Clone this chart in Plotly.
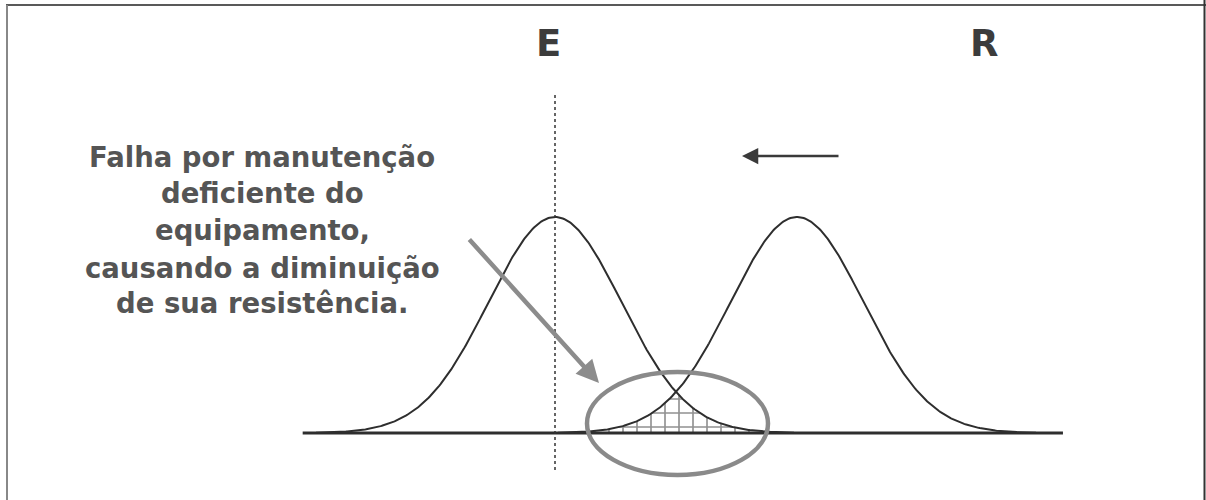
import numpy as np
import plotly.graph_objects as go

# ---- data (conceptual units: x in sigma units, y = relative density, peak = 1)
curve_names = ["E", "R"]
curve_means = [0.0, 3.645]
curve_sigma = [1.0, 1.0]
curve_peak = [1.0, 1.0]
baseline_x = [-3.8, 7.65]
overlap_x = [0.55, 3.1]
annotation_lines = ["Falha por manutenção", "deficiente do", "equipamento,",
                    "causando a diminuição", "de sua resistência."]

# ---- layout mapping (pixel -> data) for decorations only
W, H = 1206, 500
X0PX, XSCALE = 555.0, 66.4
Y0PX, YSCALE = 433.0, 216.0
def dx(px): return (px - X0PX) / XSCALE
def dy(py): return (Y0PX - py) / YSCALE

def gauss(x, m, s, a):
    return a * np.exp(-0.5 * ((x - m) / s) ** 2)

fig = go.Figure()

# hatched overlap region
xo = np.linspace(overlap_x[0], overlap_x[1], 200)
yo = np.minimum(gauss(xo, curve_means[0], curve_sigma[0], curve_peak[0]),
                gauss(xo, curve_means[1], curve_sigma[1], curve_peak[1]))
fig.add_trace(go.Scatter(
    x=np.concatenate([xo, xo[::-1]]), y=np.concatenate([yo, np.zeros_like(yo)]),
    fill="toself", mode="none", fillcolor="rgba(255,255,255,0)",
    fillpattern=dict(shape="+", fgcolor="#222222", bgcolor="white", size=14, solidity=0.22),
    hoverinfo="skip", showlegend=False))

# baseline
fig.add_trace(go.Scatter(x=baseline_x, y=[0, 0], mode="lines",
                         line=dict(color="#2e2e2e", width=3), showlegend=False, hoverinfo="skip"))

# bell curves
for name, m, s, a in zip(curve_names, curve_means, curve_sigma, curve_peak):
    xs = np.linspace(m - 3.6 * s, m + 3.6 * s, 400)
    fig.add_trace(go.Scatter(x=xs, y=gauss(xs, m, s, a), mode="lines", name=name,
                             line=dict(color="#2e2e2e", width=2), showlegend=False, hoverinfo="skip"))

shapes = []
# dotted vertical line at E mean
shapes.append(dict(type="line", x0=curve_means[0], x1=curve_means[0], y0=dy(95), y1=dy(472),
                   xref="x", yref="y", line=dict(color="#333333", width=1.5, dash="dot")))
# ellipse around overlap
shapes.append(dict(type="circle", x0=dx(587), x1=dx(768), y0=dy(475), y1=dy(372),
                   xref="x", yref="y", line=dict(color="#8a8a8a", width=4.5)))
# frame lines
shapes.append(dict(type="line", xref="paper", yref="paper", x0=6/W, x1=1, y0=1-5/H, y1=1-5/H,
                   line=dict(color="#222222", width=1.5)))
shapes.append(dict(type="line", xref="paper", yref="paper", x0=7/W, x1=7/W, y0=0, y1=1-5/H,
                   line=dict(color="#888888", width=2)))
shapes.append(dict(type="line", xref="paper", yref="paper", x0=1204.5/W, x1=1204.5/W, y0=0, y1=1,
                   line=dict(color="#333333", width=2)))

annotations = []
font_bold = "DejaVu Sans, Verdana, Arial"
for name, xp in zip(curve_names, [548, 984]):
    annotations.append(dict(x=dx(xp), y=dy(43), xref="x", yref="y", text="<b>%s</b>" % name,
                            showarrow=False, font=dict(family=font_bold, size=37, color="#3c3c3c")))
for line_text, yp in zip(annotation_lines, [157, 193, 230, 268, 303]):
    annotations.append(dict(x=dx(262), y=dy(yp), xref="x", yref="y",
                            text="<b>" + line_text + "</b>",
                            showarrow=False, align="center",
                            font=dict(family=font_bold, size=27.5, color="#555555")))
# left-pointing arrow
annotations.append(dict(x=dx(742), y=dy(156), ax=dx(840), ay=dy(156), xref="x", yref="y",
                        axref="x", ayref="y", text="", showarrow=True, arrowhead=2,
                        arrowsize=1.3, arrowwidth=2.5, arrowcolor="#3a3a3a"))
# grey diagonal arrow
annotations.append(dict(x=dx(599), y=dy(383), ax=dx(468), ay=dy(238), xref="x", yref="y",
                        axref="x", ayref="y", text="", showarrow=True, arrowhead=2,
                        arrowsize=1.0, arrowwidth=4.5, arrowcolor="#8c8c8c"))

fig.update_layout(
    width=W, height=H, margin=dict(l=0, r=0, t=0, b=0),
    paper_bgcolor="white", plot_bgcolor="white",
    xaxis=dict(range=[dx(0), dx(W)], visible=False, fixedrange=True),
    yaxis=dict(range=[dy(H), dy(0)], visible=False, fixedrange=True),
    shapes=shapes, annotations=annotations, showlegend=False,
)
fig.write_html("out.html", post_script="document.body.style.margin='0';",
               config={"displayModeBar": False})
